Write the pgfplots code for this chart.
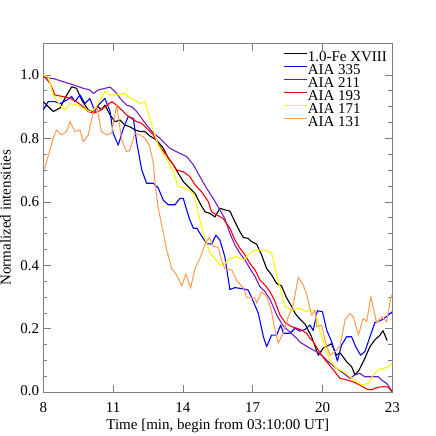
\documentclass[border=0pt]{standalone}
\usepackage{fontspec}
\setmainfont{Liberation Serif}
\usepackage{pgfplots}
\pgfplotsset{compat=1.18}
\definecolor{cfe}{RGB}{0,0,0}
\definecolor{c335}{RGB}{0,0,255}
\definecolor{c211}{RGB}{110,30,200}
\definecolor{c193}{RGB}{255,0,0}
\definecolor{c171}{RGB}{250,250,0}
\definecolor{c131}{RGB}{255,160,90}
\definecolor{axgray}{RGB}{128,128,128}
\begin{document}
\fontsize{15bp}{18bp}\selectfont
\begin{tikzpicture}
\begin{axis}[
  scale only axis, width=349bp, height=349bp,
  xmin=8, xmax=23, ymin=0, ymax=1.1,
  xtick={8,11,14,17,20,23},
  ytick={0,0.2,0.4,0.6,0.8,1.0},
  yticklabels={\raisebox{4.5bp}{0.0},0.2,0.4,0.6,0.8,1.0},
  minor y tick num=3,
  tick pos=both, xticklabel pos=lower, yticklabel pos=left,
  major tick length=7.3bp, minor tick length=4bp,
  tick style={axgray, line width=0.8bp},
  axis line style={axgray, line width=0.8bp},
  /pgf/number format/assume math mode=true,
  y tick label style={xshift=1bp},
  x tick label style={yshift=-5.5bp},
  xlabel={Time [min, begin from 03:10:00 UT]},
  ylabel={Normalized intensities},
  xlabel style={at={(axis description cs:0.5,-0.0955)}, anchor=center},
  ylabel style={at={(axis description cs:-0.1083,0.5)}, anchor=center},
  legend style={draw=none, fill=none, at={(axis description cs:0.6868,0.976)}, anchor=north west, inner sep=0pt, row sep=0pt, nodes={inner sep=0pt, text height=10bp, text depth=3bp, anchor=west}},
  legend cell align=left,
  legend image code/.code={\draw[#1, line width=1.1bp] (0bp,4.8bp) -- (23.5bp,4.8bp);},
  every axis plot/.append style={line width=1.1bp, no markers, line join=round},
]
% 1.0-Fe XVIII
\addplot[cfe] coordinates {
(8.00,0.916) (8.43,0.885) (8.72,0.896) (8.93,0.927) (9.22,0.963) (9.43,0.958) (9.65,0.921)
(9.93,0.890) (10.15,0.885) (10.36,0.900) (10.50,0.890) (10.65,0.905) (10.87,0.874) (11.08,0.853)
(11.30,0.858) (11.51,0.842) (11.72,0.837) (11.94,0.827) (12.15,0.822) (12.37,0.822) (12.58,0.808)
(12.87,0.795) (13.16,0.769) (13.37,0.738) (13.59,0.717) (13.80,0.690) (14.02,0.664) (14.30,0.643)
(14.52,0.627) (14.73,0.596) (14.95,0.569) (15.16,0.564) (15.38,0.553) (15.59,0.580) (15.80,0.575)
(16.02,0.571) (16.24,0.537) (16.45,0.506) (16.60,0.488) (16.81,0.485) (16.95,0.475) (17.17,0.467)
(17.38,0.433) (17.60,0.390) (17.81,0.370) (18.03,0.343) (18.24,0.335) (18.46,0.297) (18.67,0.271)
(18.82,0.249) (19.03,0.231) (19.25,0.215) (19.53,0.175) (19.82,0.117) (20.03,0.139) (20.39,0.153)
(20.60,0.117) (20.75,0.125) (21.04,0.096) (21.25,0.081) (21.40,0.055) (21.58,0.071) (21.82,0.107)
(22.04,0.144) (22.25,0.165) (22.47,0.180) (22.60,0.194) (22.78,0.163)
};
\addlegendentry{1.0-Fe XVIII}
% AIA 335
\addplot[c335] coordinates {
(8.00,0.890) (8.21,0.916) (8.50,0.916) (8.72,0.910) (9.00,0.921) (9.22,0.932) (9.36,0.916)
(9.58,0.937) (9.79,0.910) (10.00,0.926) (10.22,0.885) (10.36,0.905) (10.65,0.926) (10.87,0.885)
(11.00,0.817) (11.22,0.779) (11.44,0.832) (11.65,0.869) (11.87,0.863) (12.01,0.790) (12.23,0.701)
(12.44,0.659) (12.73,0.659) (12.94,0.644) (13.16,0.605) (13.37,0.591) (13.66,0.591) (13.87,0.611)
(14.02,0.611) (14.16,0.575) (14.30,0.543) (14.45,0.517) (14.60,0.517) (14.80,0.493) (15.02,0.469)
(15.23,0.467) (15.42,0.495) (15.59,0.480) (15.80,0.428) (16.02,0.324) (16.24,0.330) (16.60,0.326)
(16.81,0.322) (17.03,0.286) (17.24,0.249) (17.46,0.175) (17.60,0.144) (17.81,0.180) (18.03,0.180)
(18.20,0.212) (18.32,0.186) (18.60,0.186) (18.82,0.202) (19.03,0.193) (19.25,0.198) (19.46,0.212)
(19.60,0.195) (19.78,0.257) (20.00,0.254) (20.18,0.196) (20.39,0.160) (20.64,0.099) (20.82,0.149)
(21.04,0.175) (21.25,0.175) (21.44,0.142) (21.64,0.117) (21.82,0.128) (22.04,0.175) (22.25,0.220)
(22.54,0.228) (22.76,0.239) (23.00,0.254)
};
\addlegendentry{AIA 335}
% AIA 211
\addplot[c211] coordinates {
(8.00,0.994) (8.14,0.991) (8.43,0.989) (8.86,0.979) (9.29,0.969) (9.72,0.958) (10.00,0.953)
(10.15,0.942) (10.36,0.953) (10.65,0.958) (10.87,0.962) (11.08,0.948) (11.30,0.927) (11.58,0.905)
(11.80,0.900) (12.01,0.885) (12.23,0.863) (12.44,0.842) (12.73,0.817) (13.01,0.801) (13.44,0.769)
(13.87,0.753) (14.16,0.743) (14.45,0.717) (14.73,0.680) (15.02,0.643) (15.30,0.611) (15.59,0.575)
(15.80,0.548) (16.02,0.501) (16.24,0.464) (16.45,0.438) (16.67,0.417) (16.88,0.390) (17.10,0.365)
(17.31,0.333) (17.53,0.317) (17.74,0.294) (18.03,0.244) (18.32,0.208) (18.60,0.190) (18.89,0.170)
(19.03,0.158) (19.46,0.139) (19.75,0.128) (20.03,0.112) (20.32,0.092) (20.60,0.076) (20.90,0.060)
(21.18,0.044) (21.40,0.055) (21.60,0.060) (21.82,0.049) (22.10,0.049) (22.40,0.049) (22.54,0.039)
(22.76,0.028) (23.00,0.002)
};
\addlegendentry{AIA 211}
% AIA 193
\addplot[c193] coordinates {
(8.00,0.999) (8.29,0.974) (8.50,0.937) (8.86,0.932) (9.15,0.927) (9.43,0.916) (9.72,0.900)
(9.93,0.885) (10.15,0.880) (10.36,0.885) (10.65,0.900) (10.94,0.916) (11.15,0.905) (11.37,0.890)
(11.58,0.874) (11.80,0.863) (12.01,0.853) (12.23,0.848) (12.44,0.832) (12.73,0.811) (13.01,0.774)
(13.44,0.733) (13.73,0.701) (14.02,0.695) (14.30,0.680) (14.52,0.654) (14.80,0.632) (15.09,0.601)
(15.23,0.569) (15.45,0.559) (15.73,0.548) (16.02,0.517) (16.24,0.480) (16.45,0.454) (16.67,0.433)
(16.88,0.406) (17.10,0.386) (17.31,0.354) (17.53,0.338) (17.74,0.317) (17.92,0.293) (18.17,0.244)
(18.39,0.220) (18.67,0.207) (18.89,0.202) (19.10,0.196) (19.32,0.186) (19.46,0.170) (19.60,0.160)
(19.90,0.123) (20.18,0.096) (20.46,0.071) (20.75,0.044) (21.04,0.039) (21.32,0.033) (21.60,0.023)
(21.90,0.010) (22.10,0.008) (22.40,0.016) (22.68,0.018) (22.83,0.016) (23.00,0.000)
};
\addlegendentry{AIA 193}
% AIA 171
\addplot[c171] coordinates {
(8.00,0.999) (8.21,0.995) (8.43,0.937) (8.72,0.905) (8.93,0.890) (9.15,0.910) (9.43,0.905)
(9.72,0.895) (10.00,0.885) (10.22,0.895) (10.44,0.921) (10.65,0.948) (10.87,0.937) (11.15,0.937)
(11.51,0.942) (11.72,0.927) (11.94,0.921) (12.15,0.910) (12.37,0.916) (12.66,0.842) (12.94,0.779)
(13.23,0.743) (13.59,0.695) (13.80,0.648) (14.16,0.643) (14.45,0.627) (14.60,0.585) (14.73,0.543)
(14.88,0.501) (15.16,0.438) (15.38,0.422) (15.59,0.401) (15.80,0.406) (16.02,0.422) (16.30,0.428)
(16.60,0.417) (16.81,0.433) (17.03,0.447) (17.46,0.449) (17.81,0.440) (18.03,0.370) (18.39,0.270)
(18.67,0.259) (19.03,0.265) (19.25,0.254) (19.46,0.259) (19.68,0.254) (19.90,0.191) (20.10,0.144)
(20.32,0.101) (20.60,0.076) (20.90,0.065) (21.18,0.049) (21.47,0.033) (21.68,0.023) (21.97,0.028)
(22.18,0.055) (22.40,0.071) (22.68,0.076) (23.00,0.090)
};
\addlegendentry{AIA 171}
% AIA 131
\addplot[c131] coordinates {
(8.05,0.703) (8.43,0.801) (8.57,0.827) (8.79,0.811) (9.00,0.822) (9.15,0.853) (9.36,0.822)
(9.58,0.827) (9.72,0.790) (9.93,0.811) (10.15,0.885) (10.30,0.900) (10.50,0.822) (10.72,0.811)
(10.94,0.817) (11.15,0.905) (11.37,0.795) (11.58,0.758) (11.72,0.763) (11.94,0.817) (12.15,0.811)
(12.37,0.801) (12.58,0.774) (12.73,0.722) (12.80,0.660) (12.94,0.580) (13.09,0.528) (13.30,0.449)
(13.52,0.390) (13.73,0.370) (13.95,0.335) (14.13,0.373) (14.33,0.328) (14.52,0.390) (14.73,0.422)
(14.95,0.466) (15.13,0.488) (15.30,0.460) (15.52,0.457) (15.66,0.417) (15.80,0.390) (16.10,0.386)
(16.30,0.354) (16.60,0.328) (16.74,0.299) (17.10,0.297) (17.17,0.281) (17.38,0.317) (17.60,0.302)
(17.80,0.259) (17.90,0.218) (18.10,0.155) (18.30,0.186) (18.53,0.238) (18.74,0.275) (18.96,0.363)
(19.17,0.338) (19.32,0.309) (19.53,0.243) (19.68,0.259) (19.75,0.207) (19.96,0.212) (20.10,0.165)
(20.32,0.117) (20.54,0.128) (20.75,0.144) (20.97,0.228) (21.18,0.249) (21.32,0.238) (21.54,0.180)
(21.75,0.233) (21.90,0.223) (22.08,0.302) (22.33,0.218) (22.54,0.238) (22.76,0.223) (22.93,0.297)
(23.00,0.309)
};
\addlegendentry{AIA 131}
\end{axis}
\pgfresetboundingbox
\path[use as bounding box] ([xshift=-43.3bp,yshift=-43.7bp]current axis.south west) rectangle ([xshift=43.7bp,yshift=43.3bp]current axis.north east);
\end{tikzpicture}
\end{document}
